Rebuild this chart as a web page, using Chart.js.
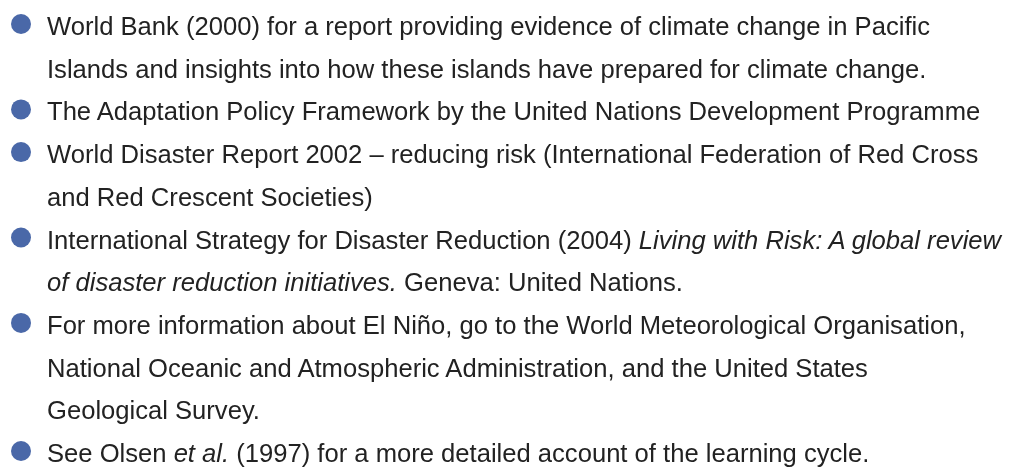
<!DOCTYPE html>
<html>
<head>
<meta charset="utf-8">
<script src="https://cdn.jsdelivr.net/npm/chart.js@4/dist/chart.umd.min.js"></script>
<style>
  html, body { margin: 0; padding: 0; background: #fff; }
  #wrap { position: relative; width: 1010px; height: 467px; overflow: hidden; }
  #wrap canvas { position: absolute; left: 0; top: 0; }
  #text { position: absolute; left: 0; top: 0; width: 1010px; height: 467px; }
  .line {
    position: absolute; white-space: nowrap;
    font-family: "Liberation Sans", Arial, sans-serif;
    font-size: 25.6px; line-height: 30px; color: #222;
  }
  .line i { font-style: italic; }
</style>
</head>
<body>
<div id="wrap">
  <canvas id="chart" width="1010" height="467"></canvas>
  <div id="text"></div>
</div>
<script>
// Text lines of the list (row by row); segments marked with * are italic
const lines = [
  'World Bank (2000) for a report providing evidence of climate change in Pacific',
  'Islands and insights into how these islands have prepared for climate change.',
  'The Adaptation Policy Framework by the United Nations Development Programme',
  'World Disaster Report 2002 – reducing risk (International Federation of Red Cross',
  'and Red Crescent Societies)',
  'International Strategy for Disaster Reduction (2004) *Living with Risk: A global review*',
  '*of disaster reduction initiatives.* Geneva: United Nations.',
  'For more information about El Niño, go to the World Meteorological Organisation,',
  'National Oceanic and Atmospheric Administration, and the United States',
  'Geological Survey.',
  'See Olsen *et al.* (1997) for a more detailed account of the learning cycle.',
];
// Rows where a new bullet starts
const bulletRows = [0, 2, 3, 5, 7, 10];

const bulletColor = '#4a68a8';

function toHtml(s) {
  return s.split('*').map((part, i) => i % 2 ? `<i>${part}</i>` : part).join('');
}

// puts the text rows next to the bullets, using the chart's own scales
const textLayer = {
  id: 'textLayer',
  afterRender(chart) {
    const box = document.getElementById('text');
    if (box.childElementCount) return;
    const { x, y } = chart.scales;
    const left = x.getPixelForValue(0) + 26;
    lines.forEach((s, i) => {
      const d = document.createElement('div');
      d.className = 'line';
      d.style.left = left + 'px';
      d.style.top = (y.getPixelForValue(i) - 12.9) + 'px';
      d.innerHTML = toHtml(s);
      box.appendChild(d);
    });
  },
};

new Chart(document.getElementById('chart'), {
  type: 'scatter',
  data: {
    datasets: [{
      data: bulletRows.map(r => ({ x: 0, y: r })),
      pointRadius: 10,
      pointHoverRadius: 10,
      backgroundColor: bulletColor,
      borderWidth: 0,
      clip: false,
    }],
  },
  options: {
    responsive: false,
    animation: false,
    events: [],
    layout: { autoPadding: false, padding: { left: 21, right: 0, top: 0, bottom: 0 } },
    plugins: { legend: { display: false }, tooltip: { enabled: false } },
    scales: {
      x: { type: 'linear', min: 0, max: 1, display: false },
      y: { type: 'linear', reverse: true, min: -0.562, max: 10.375, display: false },
    },
  },
  plugins: [textLayer],
});
</script>
</body>
</html>
